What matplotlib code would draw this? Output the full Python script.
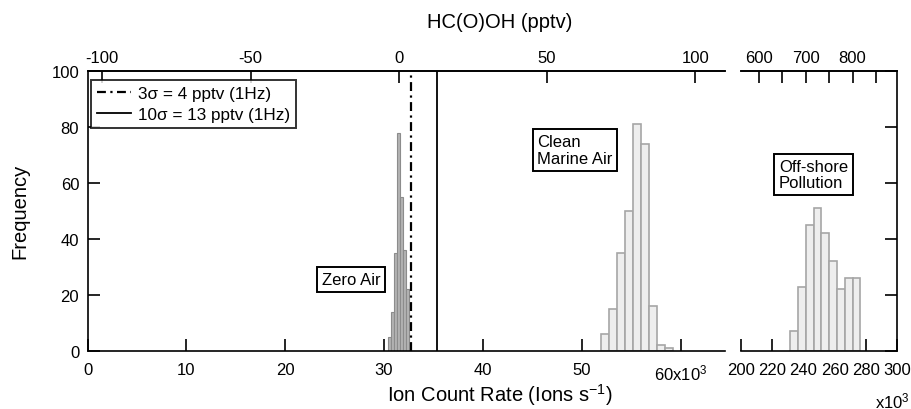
import matplotlib
matplotlib.use("Agg")
import matplotlib.pyplot as plt
from matplotlib.lines import Line2D

plt.rcParams['font.family'] = ['Liberation Sans', 'DejaVu Sans']
plt.rcParams['mathtext.fontset'] = 'custom'
plt.rcParams['mathtext.rm'] = 'Liberation Sans'
plt.rcParams['mathtext.it'] = 'Liberation Sans:italic'
plt.rcParams['axes.unicode_minus'] = False

# ---- data (ion count rate in 10^3 ions/s) ----
zero_air_left = [30.4, 30.7, 31.0, 31.3, 31.6, 31.9, 32.2]
zero_air_width = 0.3
zero_air_counts = [5, 14, 35, 78, 55, 36, 22]

clean_left = [52.0, 52.8, 53.6, 54.4, 55.2, 56.0, 56.8, 57.6, 58.4]
clean_width = 0.8
clean_counts = [6, 15, 35, 50, 81, 74, 16, 2, 1]

offshore_left = [231.5, 236.5, 241.5, 246.5, 251.5, 256.5, 261.5, 266.5, 271.5]
offshore_width = 5.0
offshore_counts = [7, 23, 45, 51, 42, 32, 22, 26, 26]

# conversion count rate (10^3 /s) <-> HC(O)OH (pptv)
zero_offset = 31.5
sensitivity = 0.3   # 10^3 ions/s per pptv
lod_3sigma = 4
lod_10sigma = 13

left_xticks = [0, 10, 20, 30, 40, 50, 60]
left_xticklabels = ['0', '10', '20', '30', '40', '50', '60x10$^3$']
right_xticks = [200, 220, 240, 260, 280, 300]
yticks = [0, 20, 40, 60, 80, 100]
top_left_ticks = [-100, -50, 0, 50, 100]
top_right_ticks = [600, 650, 700, 750, 800, 850]
top_right_labels = ['600', '', '700', '', '800', '']

def c2p(c):
    return (c - zero_offset) / sensitivity

def p2c(p):
    return zero_offset + sensitivity * p

W, H = 912, 410
fig = plt.figure(figsize=(W / 100, H / 100), dpi=100)
ax1 = fig.add_axes([87.5 / W, (H - 352) / H, (725 - 87.5) / W, 280 / H])
ax2 = fig.add_axes([741 / W, (H - 352) / H, (897 - 741) / W, 280 / H])

FS = 12
LFS = 14.5
spine_lw = 1.2
tick_kw = dict(direction='in', length=8.5, width=1.2, labelsize=FS, colors='black')

for ax in (ax1, ax2):
    ax.set_ylim(0, 100)
    for s in ax.spines.values():
        s.set_linewidth(spine_lw)

ax1.bar(zero_air_left, zero_air_counts, width=zero_air_width, align='edge',
        color='#b4b4b4', edgecolor='#8c8c8c', linewidth=0.8, zorder=2)
ax1.bar(clean_left, clean_counts, width=clean_width, align='edge',
        color='#eeeeee', edgecolor='#a6a6a6', linewidth=1.2, zorder=2)
ax2.bar(offshore_left, offshore_counts, width=offshore_width, align='edge',
        color='#eeeeee', edgecolor='#a6a6a6', linewidth=1.2, zorder=2)

ax1.axvline(p2c(lod_3sigma), color='black', lw=1.6, dashes=(4, 2, 1, 2), zorder=3)
ax1.axvline(p2c(lod_10sigma), color='black', lw=1.3, zorder=3)

# left panel axes
ax1.set_xlim(0, 64.5)
ax1.spines['right'].set_visible(False)
ax1.set_xticks(left_xticks)
ax1.set_xticklabels(left_xticklabels)
ax1.set_yticks(yticks)
ax1.tick_params(axis='x', pad=8, **tick_kw)
ax1.tick_params(axis='y', pad=6, **tick_kw)

# right panel axes
ax2.set_xlim(200, 300)
ax2.spines['left'].set_visible(False)
ax2.set_xticks(right_xticks)
ax2.set_yticks(yticks)
ax2.yaxis.tick_right()
ax2.tick_params(axis='y', labelright=False, **tick_kw)
ax2.tick_params(axis='x', pad=8, **tick_kw)

# top axes (pptv)
t1 = ax1.secondary_xaxis('top', functions=(c2p, p2c))
t1.set_xticks(top_left_ticks)
t1.tick_params(axis='x', pad=4, **tick_kw)
t1.spines['top'].set_linewidth(spine_lw)
t2 = ax2.secondary_xaxis('top', functions=(c2p, p2c))
t2.set_xticks(top_right_ticks)
t2.set_xticklabels(top_right_labels)
t2.tick_params(axis='x', pad=4, **tick_kw)
t2.spines['top'].set_linewidth(spine_lw)

# legend
handles = [Line2D([], [], color='black', lw=1.6, dashes=(4, 2, 1, 2)),
           Line2D([], [], color='black', lw=1.3)]
leg = ax1.legend(handles, ['3σ = 4 pptv (1Hz)', '10σ = 13 pptv (1Hz)'],
                 loc='upper left', bbox_to_anchor=(0.0055, 0.968), borderaxespad=0,
                 fontsize=12.3, frameon=True, fancybox=False, handlelength=2.0,
                 handletextpad=0.4, borderpad=0.35, labelspacing=0.35)
leg.get_frame().set_edgecolor('black')
leg.get_frame().set_linewidth(1.4)

box = dict(boxstyle='square,pad=0.28', facecolor='white', edgecolor='black', linewidth=1.4)
ax1.text(26.67, 25.5, 'Zero Air', ha='center', va='center', fontsize=FS, bbox=box, zorder=4)
ax1.text(45.5, 71.8, 'Clean\nMarine Air', ha='left', va='center', fontsize=FS,
         bbox=box, linespacing=1.15, zorder=4)
ax2.text(224.3, 63, 'Off-shore\nPollution', ha='left', va='center', fontsize=FS,
         bbox=box, linespacing=1.15, zorder=4)

# axis titles
fig.text(20 / W, 1 - 211 / H, 'Frequency', rotation=90, ha='center', va='center', fontsize=LFS)
fig.text(500 / W, 1 - 395 / H, 'Ion Count Rate (Ions s$^{-1}$)', ha='center', va='center', fontsize=LFS)
fig.text(500 / W, 1 - 22 / H, 'HC(O)OH (pptv)', ha='center', va='center', fontsize=LFS)
fig.text(910 / W, 1 - 401 / H, 'x10$^3$', ha='right', va='center', fontsize=FS)

fig.savefig('out.png', dpi=100)
